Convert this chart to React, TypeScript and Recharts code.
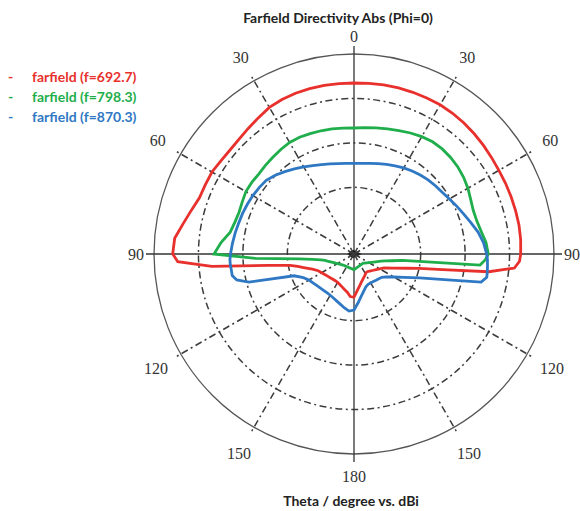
import {
  RadarChart,
  Radar,
  PolarGrid,
  PolarAngleAxis,
  PolarRadiusAxis,
  Legend,
} from "recharts";

// theta in degrees, clockwise from the top (right half = phi 0, left half = phi 180)
const THETA = [
  0, 5, 10, 15, 20, 25, 30, 35, 40, 45, 50, 55, 60, 65, 70, 75, 80, 85, 90,
  92.5, 95, 97.5, 100, 102.5,
  105, 110, 115, 120, 125, 130, 135, 140, 145, 150, 155, 160, 165, 170, 175,
  180, 185, 190, 195, 200, 205, 210, 215, 220, 225, 230, 235, 240, 245, 250, 255,
  257.5, 260, 262.5, 265, 267.5,
  270, 275, 280, 285, 290, 295, 300, 305, 310, 315, 320, 325, 330, 335, 340,
  345, 350, 355,
];

// directivity, dBi
const RED_DBI = [
  3.48, 3.54, 3.63, 3.7, 3.72, 3.75, 3.77, 3.66, 3.48, 3.25, 3.03, 2.8, 2.64,
  2.62, 2.62, 2.64, 2.69, 2.64, 2.51,
  2.28, 1.23, -4.4, -14.75, -19.99,
  -22.63, -25.71, -27.55, -28.34, -28.9, -29.31, -29.65, -29.92, -30.05, -29.83,
  -29.47, -29.04, -28.48, -27.73, -26.72, -25.26, -25.39, -26.27, -26.74, -27.13,
  -27.44, -27.62, -27.67, -27.6, -27.44, -27.24, -26.95, -26.59, -26.11, -25.03,
  -23.26,
  -22.04, -20.38, -15.43, -2.89, 4.69,
  5.79, 5.5, 4.06, 2.91, 2.01, 1.9, 1.9, 1.56, 1.41, 1.56, 1.95, 2.46, 3.09,
  3.36, 3.48, 3.54, 3.54, 3.5,
];

const GREEN_DBI = [
  -6.65, -6.47, -6.2, -5.86, -5.46, -4.96, -4.51, -4.18, -4.13, -4.27, -4.51,
  -4.9, -5.41, -6.02, -6.43, -6.38, -5.93, -5.19, -4.78,
  -5.41, -6.54, -23.95, -26.27, -27.78,
  -28.72, -29.83, -30.59, -31.11, -31.51, -31.81, -32.08, -32.12, -32.12, -32.1,
  -32.08, -32.01, -31.92, -31.81, -31.65, -31.47, -31.58, -31.67, -31.72, -31.74,
  -31.76, -31.74, -31.67, -31.6, -31.49, -31.29, -31.02, -30.68, -30.23, -29.65,
  -28.81,
  -28.3, -27.4, -25.57, -22.65, -12.82,
  -3.5, -5.01, -6.72, -7.26, -7.48, -7.26, -6.92, -6.92, -7.01, -6.81, -6.58,
  -6.29, -6.02, -6.0, -6.16, -6.29, -6.43, -6.56,
];

const BLUE_DBI = [
  -14.59, -14.53, -14.3, -13.96, -13.56, -13.11, -12.64, -12.21, -11.8, -11.42,
  -11.1, -10.77, -10.2, -9.51, -8.72, -7.78, -6.65, -5.75, -5.14,
  -4.94, -4.85, -4.74, -4.67, -5.71,
  -12.3, -19.27, -22.56, -24.65, -26.05, -26.83, -27.1, -27.28, -27.42, -27.49,
  -27.49, -27.17, -26.41, -25.42, -24.04, -22.4, -22.11, -22.67, -23.26, -23.71,
  -24.07, -24.29, -24.36, -24.34, -24.22, -24.02, -23.71, -23.3, -22.42, -20.67,
  -10.5,
  -7.98, -7.17, -7.17, -7.06, -7.06,
  -7.21, -7.55, -7.84, -8.14, -8.32, -8.52, -8.72, -8.95, -9.22, -9.94, -10.79,
  -11.6, -12.37, -13.04, -13.58, -14.03, -14.35, -14.53,
];

const THETA_TICKS = [0, 30, 60, 90, 120, 150, 180, 210, 240, 270, 300, 330];
const THETA_LABELS = ["0", "30", "60", "90", "120", "150", "180", "150", "120", "90", "60", "30"];
const RING_TICKS = [-20, -10, 0];
const DBI_DOMAIN = [-35, 10];

const SERIES_NAMES = ["farfield (f=692.7)", "farfield (f=798.3)", "farfield (f=870.3)"];
const SERIES_COLORS = ["#e8302c", "#1fae4b", "#2f78c4"];

const W = 580;
const H = 511;
const CX = 354;
const CY = 254;
const OUTER = 200;
const DASH_DOT = "7 3.5 2 3.5";
const UI_FONT = "Lato, 'Open Sans', sans-serif";

const data = THETA.map((theta, i) => ({
  theta,
  red: RED_DBI[i],
  green: GREEN_DBI[i],
  blue: BLUE_DBI[i],
}));

// spoke + label for every 30 deg; the 0/90/180/270 spokes are solid
function AngleTick(props: any) {
  const { x, y, payload } = props;
  const idx = THETA_TICKS.indexOf(payload?.value);
  if (idx < 0) return null;
  const cx = typeof props.cx === "number" ? props.cx : CX;
  const cy = typeof props.cy === "number" ? props.cy : CY;
  const dx = x - cx;
  const dy = y - cy;
  const r = Math.hypot(dx, dy) || 1;
  const ux = dx / r;
  const uy = dy / r;
  const solid = payload.value % 90 === 0;
  // labels sit a bit further out on the diagonals and on the lower half
  const lr = r + 10 + 10 * Math.abs(2 * ux * uy) + 4 * Math.max(0, uy);
  return (
    <g>
      <line
        x1={cx}
        y1={cy}
        x2={x}
        y2={y}
        stroke={solid ? "#333" : "#3c3c3c"}
        strokeWidth={solid ? 1.3 : 1.5}
        strokeDasharray={solid ? undefined : DASH_DOT}
      />
      {payload.value === 0 && (
        <polygon
          points={`${cx - 7},${cy} ${cx - 1},${cy - 4} ${cx + 8},${cy} ${cx - 1},${cy + 4}`}
          fill="#000"
        />
      )}
      <text
        x={cx + ux * lr}
        y={cy + uy * lr}
        textAnchor="middle"
        dominantBaseline="central"
        fontFamily="'Liberation Serif', 'Times New Roman', serif"
        fontSize={16}
        fill="#333"
      >
        {THETA_LABELS[idx]}
      </text>
    </g>
  );
}

function LegendList({ payload }: any) {
  return (
    <div>
      {(payload ?? []).map((p: any, i: number) => (
        <div
          key={p.value}
          style={{
            display: "flex",
            alignItems: "center",
            height: 20,
            color: p.color ?? SERIES_COLORS[i],
            fontFamily: UI_FONT,
            fontWeight: 700,
            fontSize: 14,
            whiteSpace: "nowrap",
          }}
        >
          <span style={{ width: 24 }}>-</span>
          <span>{p.value}</span>
        </div>
      ))}
    </div>
  );
}

const titleStyle = {
  position: "absolute" as const,
  transform: "translate(-50%, -50%)",
  fontFamily: UI_FONT,
  fontWeight: 700,
  fontSize: 14,
  color: "#222",
  whiteSpace: "nowrap" as const,
};

export default function App() {
  return (
    <div style={{ position: "absolute", left: 0, top: 0, width: W, height: H, background: "#fff" }}>
      <RadarChart
        width={W}
        height={H}
        data={data}
        cx={CX}
        cy={CY}
        outerRadius={OUTER}
        margin={{ top: 0, right: 0, bottom: 0, left: 0 }}
      >
        <PolarGrid
          gridType="circle"
          radialLines={false}
          stroke="#3c3c3c"
          strokeWidth={1.5}
          strokeDasharray={DASH_DOT}
        />
        <PolarRadiusAxis
          type="number"
          domain={DBI_DOMAIN}
          ticks={RING_TICKS}
          tickCount={4}
          angle={90}
          tick={false}
          axisLine={false}
        />
        <PolarAngleAxis
          type="number"
          dataKey="theta"
          domain={[0, 360]}
          ticks={THETA_TICKS}
          tickCount={13}
          tick={<AngleTick />}
          tickLine={false}
          tickSize={0}
          axisLineType="circle"
          axisLine={{ stroke: "#555", strokeWidth: 1.3 }}
        />
        <Legend
          layout="vertical"
          align="center"
          verticalAlign="middle"
          wrapperStyle={{ left: 8, top: 66, width: "auto" }}
          content={<LegendList />}
        />
        {["red", "green", "blue"].map((key, i) => (
          <Radar
            key={key}
            name={SERIES_NAMES[i]}
            dataKey={key}
            stroke={SERIES_COLORS[i]}
            strokeWidth={2.8}
            fill="none"
            fillOpacity={0}
            dot={false}
            legendType="line"
            isAnimationActive={false}
            zIndex={600}
          />
        ))}
      </RadarChart>
      <div style={{ ...titleStyle, left: 338, top: 17 }}>Farfield Directivity Abs (Phi=0)</div>
      <div style={{ ...titleStyle, left: 351, top: 500 }}>Theta / degree vs. dBi</div>
    </div>
  );
}
